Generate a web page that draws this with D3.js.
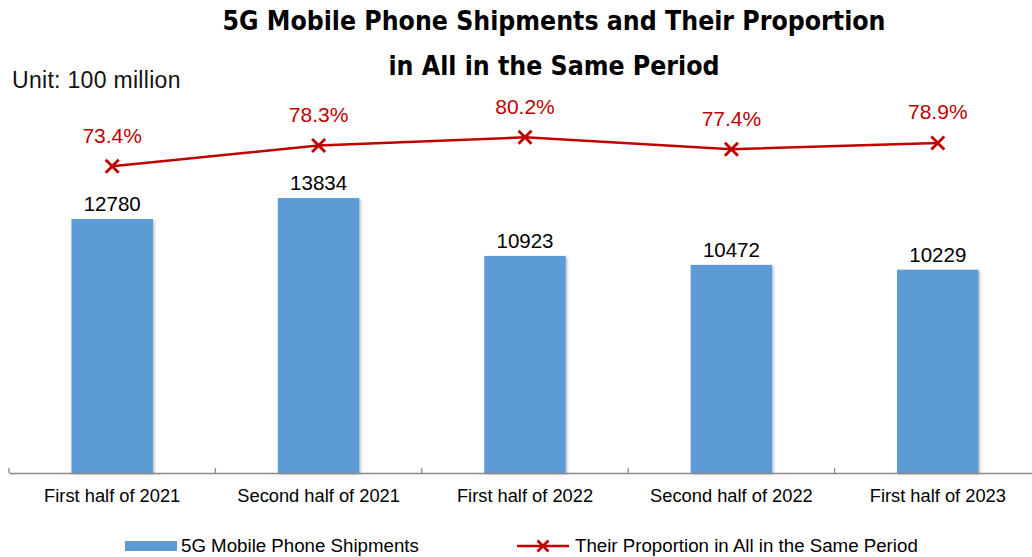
<!DOCTYPE html>
<html>
<head>
<meta charset="utf-8">
<script src="https://cdn.jsdelivr.net/npm/d3@7"></script>
<style>
  body { margin: 0; background: #fff; }
  text { font-family: "Liberation Sans", Arial, sans-serif; }
</style>
</head>
<body>
<div id="chart"></div>
<script>
const categories = ['First half of 2021', 'Second half of 2021', 'First half of 2022', 'Second half of 2022', 'First half of 2023'];
const shipments = [12780, 13834, 10923, 10472, 10229];
const proportion = [73.4, 78.3, 80.2, 77.4, 78.9];

const width = 1032;
const height = 557;
const margin = { top: 155, bottom: 84, left: 9, right: -9 };

const svg = d3.select('#chart')
  .append('svg')
  .attr('width', width)
  .attr('height', height);

const defs = svg.append('defs');
const shadow = defs.append('filter').attr('id', 'shadow')
  .attr('x', '-10%').attr('y', '-10%').attr('width', '130%').attr('height', '130%');
shadow.append('feDropShadow')
  .attr('dx', 1.5).attr('dy', 1.5).attr('stdDeviation', 1.2)
  .attr('flood-color', '#000').attr('flood-opacity', 0.25);

const x = d3.scaleBand()
  .domain(categories)
  .range([margin.left, width - margin.right])
  .paddingInner(0.605)
  .paddingOuter(0.3025);

const y = d3.scaleLinear()
  .domain([0, 16000])
  .range([height - margin.bottom, margin.top]);

const y2 = d3.scaleLinear()
  .domain([0, 100])
  .range([479, 53]);

// title
const titleFont = '"DejaVu Sans Condensed", "DejaVu Sans", sans-serif';
const title = svg.append('g')
  .attr('font-weight', 'bold')
  .attr('text-anchor', 'middle')
  .attr('font-size', 26.4);
title.append('text').attr('x', 554).attr('y', 30)
  .style('font-family', titleFont)
  .text('5G Mobile Phone Shipments and Their Proportion');
title.append('text').attr('x', 554).attr('y', 75)
  .style('font-family', titleFont)
  .text('in All in the Same Period');

svg.append('text')
  .attr('x', 12).attr('y', 88)
  .attr('font-size', 23)
  .attr('letter-spacing', 0.3)
  .attr('fill', '#111')
  .text('Unit: 100 million');

// bars
svg.append('g')
  .attr('fill', '#5B9BD5')
  .selectAll('rect')
  .data(shipments)
  .join('rect')
    .attr('x', (d, i) => x(categories[i]))
    .attr('y', d => y(d))
    .attr('width', x.bandwidth())
    .attr('height', d => y(0) - y(d))
    .attr('filter', 'url(#shadow)');

svg.append('g')
  .attr('text-anchor', 'middle')
  .attr('font-size', 20.5)
  .attr('fill', '#000')
  .selectAll('text')
  .data(shipments)
  .join('text')
    .attr('x', (d, i) => x(categories[i]) + x.bandwidth() / 2)
    .attr('y', d => y(d) - 8)
    .text(d => d);

// x axis
const xAxis = svg.append('g')
  .attr('transform', `translate(0,${y(0)})`)
  .call(d3.axisBottom(x).tickSize(0).tickPadding(16));
xAxis.select('.domain').attr('stroke', '#898989').attr('stroke-width', 1.3);
xAxis.selectAll('text')
  .attr('font-size', 18.3)
  .attr('fill', '#000')
  .style('font-family', '"Liberation Sans", Arial, sans-serif');

const step = x.step();
const bounds = d3.range(categories.length).map(i => margin.left + step * i);
svg.append('g')
  .attr('stroke', '#898989')
  .attr('stroke-width', 1.3)
  .selectAll('line')
  .data(bounds)
  .join('line')
    .attr('x1', d => d).attr('x2', d => d)
    .attr('y1', y(0) - 5).attr('y2', y(0));

// line series
const cx = (d, i) => x(categories[i]) + x.bandwidth() / 2;
const line = d3.line()
  .x(cx)
  .y(d => y2(d));

svg.append('path')
  .datum(proportion)
  .attr('fill', 'none')
  .attr('stroke', '#C00000')
  .attr('stroke-width', 2.5)
  .attr('d', line);

function cross(g, px, py, s) {
  g.append('path')
    .attr('d', `M${px - s},${py - s}L${px + s},${py + s}M${px - s},${py + s}L${px + s},${py - s}`)
    .attr('stroke', '#C00000')
    .attr('stroke-width', 2.8)
    .attr('fill', 'none');
}
const markers = svg.append('g');
proportion.forEach((d, i) => cross(markers, cx(d, i), y2(d), 6.5));

svg.append('g')
  .attr('text-anchor', 'middle')
  .attr('font-size', 21)
  .attr('fill', '#C00000')
  .selectAll('text')
  .data(proportion)
  .join('text')
    .attr('x', cx)
    .attr('y', d => y2(d) - 23.5)
    .text(d => d.toFixed(1) + '%');

// legend
const legend = svg.append('g').attr('font-size', 18.7).attr('fill', '#000');
legend.append('rect')
  .attr('x', 125).attr('y', 541).attr('width', 52).attr('height', 10)
  .attr('fill', '#5B9BD5');
legend.append('text').attr('x', 181).attr('y', 552).text('5G Mobile Phone Shipments');
legend.append('line')
  .attr('x1', 517).attr('x2', 569).attr('y1', 546).attr('y2', 546)
  .attr('stroke', '#C00000').attr('stroke-width', 2.5);
cross(legend, 543, 546, 5.5);
legend.append('text').attr('x', 575).attr('y', 552).text('Their Proportion in All in the Same Period');
</script>
</body>
</html>
